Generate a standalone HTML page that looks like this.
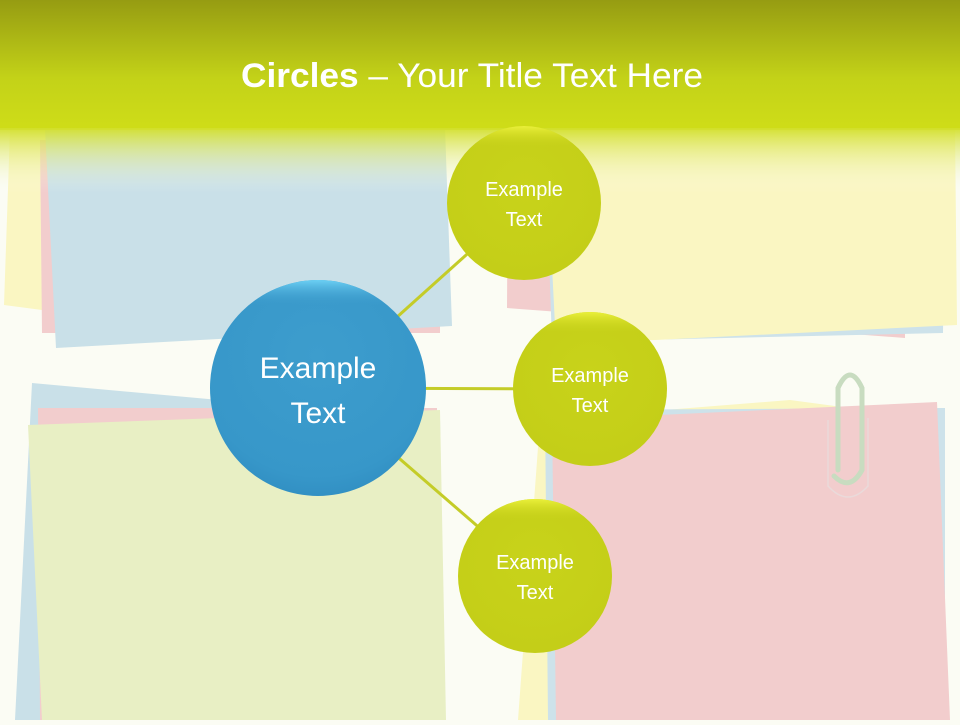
<!DOCTYPE html>
<html><head><meta charset="utf-8"><style>
html,body{margin:0;padding:0;}
body{width:960px;height:720px;overflow:hidden;background:#fbfcf4;font-family:"Liberation Sans",sans-serif;}
</style></head><body>
<svg width="960" height="720" viewBox="0 0 960 720" xmlns="http://www.w3.org/2000/svg">
<defs>
<linearGradient id="hdr" x1="0" y1="0" x2="0" y2="1">
<stop offset="0" stop-color="#969c12"/><stop offset="0.6" stop-color="#c3d218"/><stop offset="1" stop-color="#cfdd18"/>
</linearGradient>
<linearGradient id="fade" x1="0" y1="0" x2="0" y2="1">
<stop offset="0" stop-color="#d2df2a" stop-opacity="0.95"/><stop offset="1" stop-color="#fbfcf4" stop-opacity="0"/>
</linearGradient>
<radialGradient id="blue" cx="0.5" cy="0.35" r="0.7">
<stop offset="0" stop-color="#3d9dcd"/><stop offset="0.8" stop-color="#3797c9"/><stop offset="1" stop-color="#2f8cc0"/>
</radialGradient>
<linearGradient id="blueTop" x1="0" y1="0" x2="0" y2="1">
<stop offset="0" stop-color="#6cd0f4"/><stop offset="0.12" stop-color="#3b9acb" stop-opacity="0"/>
</linearGradient>
<radialGradient id="grn" cx="0.5" cy="0.4" r="0.7">
<stop offset="0" stop-color="#c8d31a"/><stop offset="0.85" stop-color="#c4ce18"/><stop offset="1" stop-color="#b3bd12"/>
</radialGradient>
<linearGradient id="grnTop" x1="0" y1="0" x2="0" y2="1">
<stop offset="0" stop-color="#eaf03a"/><stop offset="0.14" stop-color="#c8d21a" stop-opacity="0"/>
</linearGradient>
</defs>
<polygon points="10,130 48,130 42,310 4,305" fill="#faf6c2"/>
<polygon points="40,140 440,140 440,333 42,333" fill="#f2cdcd"/>
<polygon points="45,128 445,128 452,326 56,348" fill="#c9e0e8"/>
<polygon points="508,140 905,140 905,338 507,308" fill="#f2cdcd"/>
<polygon points="545,140 945,140 943,333 552,342" fill="#cde2ea"/>
<polygon points="545,128 955,128 957,325 556,345" fill="#faf6c2"/>
<polygon points="32,383 440,420 445,720 15,720" fill="#c9e0e8"/>
<polygon points="38,408 437,408 437,720 40,720" fill="#f2cdcd"/>
<polygon points="28,425 440,410 446,720 42,720" fill="#e8efc4"/>
<polygon points="540,420 790,400 940,420 900,720 518,720" fill="#faf6c2"/>
<polygon points="545,410 945,408 945,720 548,720" fill="#cde2ea"/>
<polygon points="552,420 937,402 950,720 556,720" fill="#f2cdcd"/>
<g fill="none" stroke="#c8dcc0" stroke-width="5" stroke-linecap="round">
<path d="M838,470 L838,388 Q850,362 862,388 L862,470 Q850,492 834,476"/>
</g>
<g fill="none" stroke="#eadada" stroke-width="1.5"><path d="M828,420 L828,486 Q848,508 868,486 L868,418"/></g>
<rect x="0" y="0" width="960" height="130" fill="url(#hdr)"/>
<rect x="0" y="128" width="960" height="65" fill="url(#fade)"/>
<text x="472" y="87" text-anchor="middle" fill="#fff" font-size="34" textLength="462" lengthAdjust="spacingAndGlyphs" font-family="Liberation Sans, sans-serif"><tspan font-weight="bold">Circles</tspan> – Your Title Text Here</text>
<g stroke="#c4cc28" stroke-width="3">
<line x1="318" y1="388" x2="524" y2="203"/>
<line x1="318" y1="388" x2="590" y2="389"/>
<line x1="318" y1="388" x2="535" y2="576"/>
</g>
<circle cx="318" cy="388" r="108" fill="url(#blue)"/>
<circle cx="318" cy="388" r="108" fill="url(#blueTop)"/>
<circle cx="524" cy="203" r="77" fill="url(#grn)"/>
<circle cx="524" cy="203" r="77" fill="url(#grnTop)"/>
<circle cx="590" cy="389" r="77" fill="url(#grn)"/>
<circle cx="590" cy="389" r="77" fill="url(#grnTop)"/>
<circle cx="535" cy="576" r="77" fill="url(#grn)"/>
<circle cx="535" cy="576" r="77" fill="url(#grnTop)"/>
<g fill="#fff" text-anchor="middle" font-family="Liberation Sans, sans-serif">
<text x="318" y="378" font-size="30">Example</text>
<text x="318" y="423" font-size="30">Text</text>
<text x="524" y="196" font-size="20">Example</text>
<text x="524" y="226" font-size="20">Text</text>
<text x="590" y="382" font-size="20">Example</text>
<text x="590" y="412" font-size="20">Text</text>
<text x="535" y="569" font-size="20">Example</text>
<text x="535" y="599" font-size="20">Text</text>
</g>
</svg>
</body></html>
